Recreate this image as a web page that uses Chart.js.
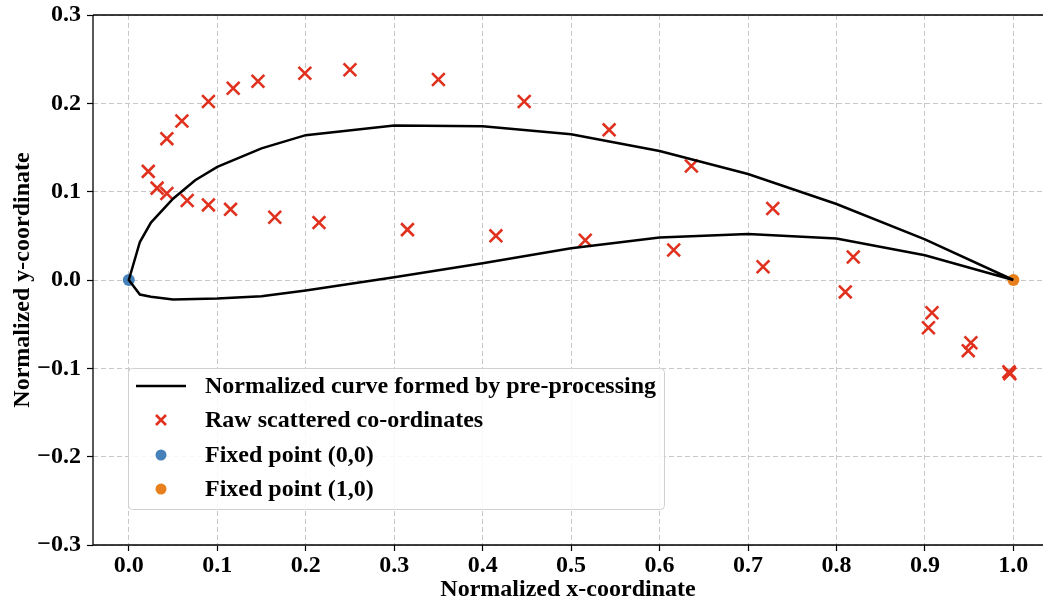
<!DOCTYPE html>
<html>
<head>
<meta charset="utf-8">
<script src="https://cdn.jsdelivr.net/npm/chart.js@4.4.1/dist/chart.umd.min.js"></script>
<style>
  html, body { margin: 0; padding: 0; background: #fff; }
  #wrap { width: 1043px; height: 604px; }
</style>
</head>
<body>
<div id="wrap"><canvas id="airfoil" width="1043" height="604"></canvas></div>
<script>
// Chord stations of the pre-processed curve
const stations = [0, 0.0125, 0.025, 0.05, 0.075, 0.1, 0.15, 0.2, 0.3, 0.4, 0.5, 0.6, 0.7, 0.8, 0.9, 1.0];
const upperY = [0, 0.043, 0.065, 0.092, 0.113, 0.128, 0.149, 0.164, 0.175, 0.174, 0.165, 0.146, 0.120, 0.086, 0.046, 0];
const lowerY = [0, -0.0165, -0.019, -0.022, -0.0215, -0.021, -0.0185, -0.012, 0.003, 0.019, 0.036, 0.048, 0.052, 0.047, 0.028, 0];

// Raw scattered co-ordinates
const rawX = [0.022, 0.032, 0.043, 0.043, 0.060, 0.090, 0.118, 0.146, 0.199, 0.250, 0.350, 0.447, 0.543, 0.636,
              0.066, 0.090, 0.115, 0.165, 0.215, 0.315, 0.415, 0.516, 0.616, 0.717, 0.728, 0.819, 0.810,
              0.908, 0.904, 0.952, 0.949, 0.995, 0.996];
const rawY = [0.123, 0.104, 0.098, 0.160, 0.180, 0.202, 0.217, 0.225, 0.234, 0.238, 0.227, 0.202, 0.170, 0.129,
              0.090, 0.085, 0.080, 0.071, 0.065, 0.057, 0.050, 0.045, 0.034, 0.015, 0.081, 0.026, -0.0135,
              -0.037, -0.054, -0.071, -0.080, -0.104, -0.106];

const fixedStart = [0, 0];
const fixedEnd = [1, 0];

const xTicks = [0, 0.1, 0.2, 0.3, 0.4, 0.5, 0.6, 0.7, 0.8, 0.9, 1.0];
const yTicks = [-0.3, -0.2, -0.1, 0, 0.1, 0.2, 0.3];

const labels = [
    'Normalized curve formed by pre-processing',
    'Raw scattered co-ordinates',
    'Fixed point (0,0)',
    'Fixed point (1,0)'
];

const FONT = '"Liberation Serif", "Times New Roman", serif';
const FS = 24;
const RED = '#e0301e';
const BLUE = '#4682b9';
const ORANGE = '#e8801e';

// closed curve: trailing edge -> upper -> leading edge -> lower -> trailing edge
const curvePts = [];
for (let i = stations.length - 1; i >= 0; i--) curvePts.push({ x: stations[i], y: upperY[i] });
for (let i = 1; i < stations.length; i++) curvePts.push({ x: stations[i], y: lowerY[i] });

const rawPts = rawX.map((x, i) => ({ x: x, y: rawY[i] }));

function fmt(v) {
    const s = Math.abs(v).toFixed(1);
    return v < -1e-9 ? '\u2212' + s : s;
}

// spines + legend box drawn inside the plot area
const framePlugin = {
    id: 'frame',
    afterDraw(chart) {
        const ctx = chart.ctx;
        const a = chart.chartArea;
        ctx.save();
        ctx.strokeStyle = '#000';
        ctx.lineWidth = 1.3;
        ctx.beginPath();
        ctx.moveTo(a.left, a.top);
        ctx.lineTo(a.right, a.top);
        ctx.moveTo(a.left, a.top);
        ctx.lineTo(a.left, a.bottom);
        ctx.lineTo(a.right, a.bottom);
        ctx.stroke();

        // legend
        const bx = 128, by = 368, bw = 536, bh = 141, r = 4;
        ctx.fillStyle = 'rgba(255,255,255,0.85)';
        ctx.strokeStyle = '#d0d0d0';
        ctx.lineWidth = 1;
        ctx.beginPath();
        ctx.roundRect(bx + 0.5, by + 0.5, bw, bh, r);
        ctx.fill();
        ctx.stroke();

        const rowY = [386, 420, 455, 489];
        const hx = 161;
        ctx.font = 'bold ' + FS + 'px ' + FONT;
        ctx.textBaseline = 'middle';
        ctx.textAlign = 'left';
        chart.data.datasets.forEach((ds, i) => {
            const y = rowY[i];
            if (i === 0) {
                ctx.strokeStyle = '#000';
                ctx.lineWidth = 2.5;
                ctx.beginPath();
                ctx.moveTo(136, y);
                ctx.lineTo(186, y);
                ctx.stroke();
            } else if (i === 1) {
                ctx.strokeStyle = RED;
                ctx.lineWidth = 2.6;
                ctx.beginPath();
                ctx.moveTo(hx - 5, y - 5); ctx.lineTo(hx + 5, y + 5);
                ctx.moveTo(hx - 5, y + 5); ctx.lineTo(hx + 5, y - 5);
                ctx.stroke();
            } else {
                ctx.fillStyle = ds.backgroundColor;
                ctx.beginPath();
                ctx.arc(hx, y, 5.5, 0, Math.PI * 2);
                ctx.fill();
            }
            ctx.fillStyle = '#000';
            ctx.fillText(ds.label, 205, y + 1);
        });
        ctx.restore();
    }
};

const ctx = document.getElementById('airfoil').getContext('2d');
new Chart(ctx, {
    type: 'scatter',
    data: {
        datasets: [
            {
                label: labels[0],
                data: curvePts,
                showLine: true,
                borderColor: '#000',
                borderWidth: 2.5,
                pointRadius: 0,
                tension: 0,
                order: 0
            },
            {
                label: labels[1],
                data: rawPts,
                pointStyle: 'crossRot',
                pointRadius: 9,
                borderColor: RED,
                backgroundColor: RED,
                pointBorderWidth: 2.6,
                order: 1
            },
            {
                label: labels[2],
                data: [{ x: fixedStart[0], y: fixedStart[1] }],
                pointRadius: 6,
                backgroundColor: BLUE,
                borderColor: BLUE,
                borderWidth: 0,
                order: 2
            },
            {
                label: labels[3],
                data: [{ x: fixedEnd[0], y: fixedEnd[1] }],
                pointRadius: 6,
                backgroundColor: ORANGE,
                borderColor: ORANGE,
                borderWidth: 0,
                order: 2
            }
        ]
    },
    options: {
        responsive: false,
        animation: false,
        clip: false,
        layout: { autoPadding: false, padding: { top: 15, right: 0, left: 0, bottom: 0 } },
        plugins: {
            legend: { display: false },
            tooltip: { enabled: false }
        },
        scales: {
            x: {
                type: 'linear',
                min: -0.0405,
                max: 1.0335,
                afterBuildTicks: (scale) => { scale.ticks = xTicks.map(v => ({ value: v })); },
                afterFit: (scale) => {
                    scale.height = 59;
                    scale.paddingLeft = 0;
                    scale.paddingRight = 0;
                },
                ticks: {
                    callback: (v) => fmt(v),
                    color: '#000',
                    font: { family: FONT, size: FS, weight: 'bold' },
                    padding: 0,
                    maxRotation: 0
                },
                grid: {
                    color: '#c8c8c8',
                    lineWidth: 1,
                    tickColor: '#000',
                    tickLength: 6,
                    tickWidth: 1.2
                },
                border: { display: false, dash: [5, 3] },
                title: {
                    display: true,
                    text: 'Normalized x-coordinate',
                    color: '#000',
                    font: { family: FONT, size: FS, weight: 'bold' },
                    padding: { top: 3, bottom: 0 }
                }
            },
            y: {
                type: 'linear',
                min: -0.3,
                max: 0.3,
                afterBuildTicks: (scale) => { scale.ticks = yTicks.map(v => ({ value: v })); },
                afterFit: (scale) => {
                    scale.width = 93;
                    scale.paddingTop = 0;
                    scale.paddingBottom = 0;
                },
                ticks: {
                    callback: (v) => fmt(v),
                    color: '#000',
                    font: { family: FONT, size: FS, weight: 'bold' },
                    padding: 6
                },
                grid: {
                    color: '#c8c8c8',
                    lineWidth: 1,
                    tickColor: '#000',
                    tickLength: 6,
                    tickWidth: 1.2
                },
                border: { display: false, dash: [5, 3] },
                title: {
                    display: true,
                    text: 'Normalized y-coordinate',
                    color: '#000',
                    font: { family: FONT, size: FS, weight: 'bold' },
                    padding: { top: 8, bottom: 0 }
                }
            }
        }
    },
    plugins: [framePlugin]
});
</script>
</body>
</html>
